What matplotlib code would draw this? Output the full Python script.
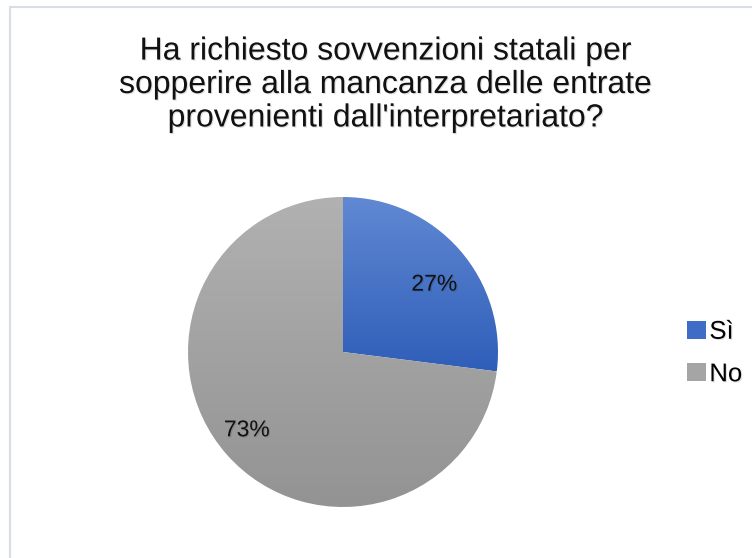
import numpy as np
import matplotlib
matplotlib.use("Agg")
import matplotlib.pyplot as plt
from matplotlib.patches import Rectangle, Patch
from matplotlib.colors import LinearSegmentedColormap
import matplotlib.patheffects as pe

plt.rcParams['font.family'] = ['Liberation Sans', 'DejaVu Sans']

# Survey answers
title = "Ha richiesto sovvenzioni statali per\nsopperire alla mancanza delle entrate\nprovenienti dall'interpretariato?"
labels = ['Sì', 'No']
shares = [27, 73]

# top / bottom colours of each slice's vertical gradient
grad_top = ['#6189d3', '#b1b1b1']
grad_bottom = ['#2f5eb9', '#939393']
legend_colors = ['#3f6cc6', '#a5a5a5']

W, H = 752, 558
fig = plt.figure(figsize=(W / 100, H / 100), dpi=100)

# light frame around the chart area
fig.patches.append(Rectangle((9.5 / W, -0.1), 1.2, 1 - 7.5 / H + 0.1,
                             transform=fig.transFigure, fill=False,
                             edgecolor='#d9dee5', linewidth=1.5))

shadow = [pe.withSimplePatchShadow(offset=(0.8, -0.8), shadow_rgbFace='#000000', alpha=0.12)]

fig.text(386 / W, 1 - 85 / H, title, ha='center', va='center', fontsize=23,
         linespacing=1.15, color='#111111', path_effects=shadow)

cx, cy, r = 343, 352, 155
ax = fig.add_axes([(cx - r) / W, (H - cy - r) / H, 2 * r / W, 2 * r / H])

wedges, texts, autotexts = ax.pie(shares, startangle=90, counterclock=False,
                                  colors=legend_colors, autopct='%1.0f%%',
                                  pctdistance=0.75,
                                  wedgeprops=dict(linewidth=0),
                                  textprops=dict(fontsize=16.5, color='#111111'))
ax.set_xlim(-1, 1)
ax.set_ylim(-1, 1)
ax.set_aspect('equal')
ax.axis('off')

# replace flat fills with vertical gradients clipped to each wedge
for w, top, bot in zip(wedges, grad_top, grad_bottom):
    w.set_facecolor('none')
    bb = w.get_path().get_extents(w.get_patch_transform())
    cmap = LinearSegmentedColormap.from_list('g', [bot, top])
    grad = np.linspace(0, 1, 256).reshape(-1, 1)
    im = ax.imshow(grad, cmap=cmap, origin='lower', aspect='auto',
                   extent=(bb.x0, bb.x1, bb.y0, bb.y1), zorder=0.5,
                   interpolation='bilinear')
    im.set_clip_path(w)

# nudge the percentage labels a little off the bisector
nudges = [(0.026, -0.058), (-0.058, -0.006)]
for t, (dx, dy) in zip(autotexts, nudges):
    x, y = t.get_position()
    t.set_position((x + dx, y + dy))
    t.set_path_effects(shadow)
    t.set_zorder(3)

handles = [Patch(facecolor=c, edgecolor='none') for c in legend_colors]
leg = fig.legend(handles, labels, loc='center left',
                 bbox_to_anchor=(687 / W, 1 - 353 / H), frameon=False,
                 borderaxespad=0, borderpad=0,
                 fontsize=18.5, handlelength=0.72, handleheight=0.72,
                 handletextpad=0.15, labelspacing=0.72)
for t in leg.get_texts():
    t.set_path_effects(shadow)

fig.savefig('out.png', dpi=100)
